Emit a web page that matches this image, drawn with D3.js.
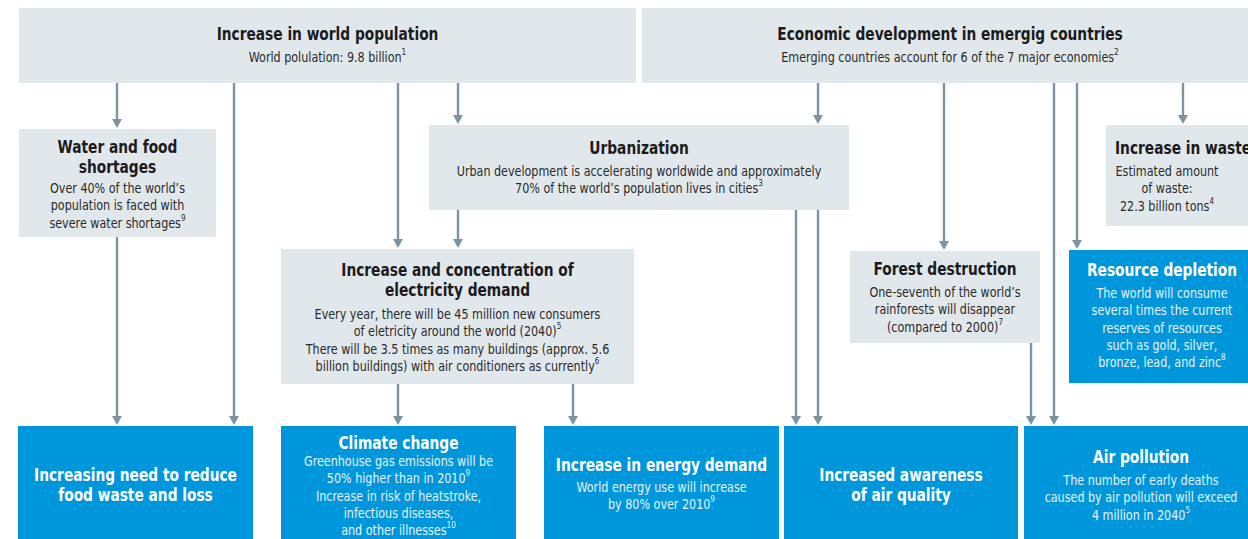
<!DOCTYPE html>
<html>
<head>
<meta charset="utf-8">
<script src="https://cdn.jsdelivr.net/npm/d3@7"></script>
<style>
  body { margin: 0; background: #fff; }
  svg { display: block; }
</style>
</head>
<body>
<script>
// boxes of the diagram ( "^n" marks a footnote number )
var nodeIds = ["pop", "econ", "water", "urban", "waste", "elec", "forest", "resource",
               "food", "climate", "energy", "aware", "air"];

var nodeTitles = [
    ["Increase in world population"],
    ["Economic development in emergig countries"],
    ["Water and food", "shortages"],
    ["Urbanization"],
    ["Increase in waste"],
    ["Increase and concentration of", "electricity demand"],
    ["Forest destruction"],
    ["Resource depletion"],
    ["Increasing need to reduce", "food waste and loss"],
    ["Climate change"],
    ["Increase in energy demand"],
    ["Increased awareness", "of air quality"],
    ["Air pollution"]
];

var nodeBodies = [
    ["World polulation: 9.8 billion^1"],
    ["Emerging countries account for 6 of the 7 major economies^2"],
    ["Over 40% of the world\u2019s", "population is faced with", "severe water shortages^9"],
    ["Urban development is accelerating worldwide and approximately", "70% of the world\u2019s population lives in cities^3"],
    ["Estimated amount", "of waste:", "22.3 billion tons^4"],
    ["Every year, there will be 45 million new consumers", "of eletricity around the world (2040)^5",
     "There will be 3.5 times as many buildings (approx. 5.6", "billion buildings) with air conditioners as currently^6"],
    ["One-seventh of the world\u2019s", "rainforests will disappear", "(compared to 2000)^7"],
    ["The world will consume", "several times the current", "reserves of resources", "such as gold, silver,", "bronze, lead, and zinc^8"],
    [],
    ["Greenhouse gas emissions will be", "50% higher than in 2010^9", "Increase in risk of heatstroke,", "infectious diseases,", "and other illnesses^10"],
    ["World energy use will increase", "by 80% over 2010^9"],
    [],
    ["The number of early deaths", "caused by air pollution will exceed", "4 million in 2040^5"]
];

var nodeKinds = ["grey", "grey", "grey", "grey", "grey", "grey", "grey", "blue",
                 "blue", "blue", "blue", "blue", "blue"];

// arrows: from box, to box, x of the line
var edgeFrom = ["pop", "pop", "pop", "pop", "urban", "water", "elec", "elec", "econ", "urban", "urban", "econ", "econ", "econ", "forest", "econ"];
var edgeTo   = ["water", "food", "elec", "urban", "elec", "food", "climate", "energy", "urban", "aware", "aware", "forest", "air", "resource", "air", "waste"];
var edgeX    = [117, 234, 398, 458, 458, 117, 398, 573, 818, 796, 818, 944, 1054, 1077, 1031, 1183];

// placement of the boxes: x, y, w, h, first text row, gap title -> body, text centre
var layout = {
    pop:      {x: 19,   y: 8,   w: 617, h: 75,  ty: 34,  gap: 23},
    econ:     {x: 642,  y: 8,   w: 616, h: 75,  ty: 34,  gap: 23},
    water:    {x: 19,   y: 129, w: 197, h: 108, ty: 147, gap: 21},
    urban:    {x: 429,  y: 125, w: 420, h: 85,  ty: 148, gap: 23},
    waste:    {x: 1106, y: 125, w: 160, h: 101, ty: 148, gap: 23, cx: 1167, tx: 1115},
    elec:     {x: 281,  y: 249, w: 353, h: 135, ty: 270, gap: 24},
    forest:   {x: 850,  y: 251, w: 190, h: 92,  ty: 269, gap: 23},
    resource: {x: 1069, y: 250, w: 190, h: 133, ty: 270, gap: 23, cx: 1162},
    food:     {x: 18,   y: 426, w: 235, h: 130, ty: 475, gap: 20},
    climate:  {x: 281,  y: 426, w: 235, h: 130, ty: 443, gap: 18},
    energy:   {x: 544,  y: 426, w: 235, h: 130, ty: 465, gap: 22},
    aware:    {x: 784,  y: 426, w: 234, h: 130, ty: 475, gap: 20},
    air:      {x: 1024, y: 426, w: 234, h: 130, ty: 457, gap: 23, cx: 1141}
};

var W = 1248, H = 539;
var colors = {grey: "#e1e8ec", blue: "#0096db", arrow: "#7b94a3"};
var font = "'DejaVu Sans Condensed', 'Liberation Sans Narrow', sans-serif";
var squeeze = 0.9;   // narrow the glyphs to look like a condensed face

var nodes = nodeIds.map(function(id, i) {
    var l = layout[id];
    return {id: id, title: nodeTitles[i], body: nodeBodies[i], kind: nodeKinds[i],
            x: l.x, y: l.y, w: l.w, h: l.h, ty: l.ty, gap: l.gap,
            cx: l.cx || l.x + l.w / 2, tx: l.tx};
});
var byId = {};
nodes.forEach(function(n) { byId[n.id] = n; });

var edges = edgeFrom.map(function(f, i) {
    return {x: edgeX[i], y1: byId[f].y + byId[f].h, y2: byId[edgeTo[i]].y};
});

var svg = d3.select("body")
    .append("svg")
    .attr("width", W)
    .attr("height", H)
    .style("font-family", font);

// arrows
var ag = svg.selectAll(".edge")
    .data(edges)
    .enter()
    .append("g")
    .attr("class", "edge");

ag.append("line")
    .attr("x1", function(d) { return d.x; })
    .attr("x2", function(d) { return d.x; })
    .attr("y1", function(d) { return d.y1; })
    .attr("y2", function(d) { return d.y2 - 8; })
    .attr("stroke", colors.arrow)
    .attr("stroke-width", 2.4);

ag.append("path")
    .attr("d", function(d) {
        return "M" + (d.x - 5) + "," + (d.y2 - 10) + "L" + (d.x + 5) + "," + (d.y2 - 10) + "L" + d.x + "," + (d.y2 - 1) + "Z";
    })
    .attr("fill", colors.arrow);

// boxes
var g = svg.selectAll(".node")
    .data(nodes)
    .enter()
    .append("g")
    .attr("class", "node");

g.append("rect")
    .attr("x", function(d) { return d.x; })
    .attr("y", function(d) { return d.y; })
    .attr("width", function(d) { return d.w; })
    .attr("height", function(d) { return d.h; })
    .attr("fill", function(d) { return colors[d.kind]; });

function addLine(sel, str) {
    var parts = str.split("^");
    sel.append("tspan").text(parts[0]);
    if (parts[1]) {
        sel.append("tspan")
            .attr("dy", -5)
            .attr("font-size", 9)
            .text(parts[1]);
    }
}

function place(x, y) {
    return "translate(" + x + "," + y + ") scale(" + squeeze + ",1)";
}

g.each(function(d) {
    var el = d3.select(this);
    var dark = d.kind == "grey";
    d.title.forEach(function(t, i) {
        el.append("text")
            .attr("transform", place(d.tx || d.cx, d.ty + i * 20))
            .attr("text-anchor", d.tx ? "start" : "middle")
            .attr("dominant-baseline", "central")
            .attr("font-weight", "bold")
            .attr("font-size", 17)
            .attr("fill", dark ? "#1b1b1b" : "#ffffff")
            .text(t);
    });
    var by = d.ty + (d.title.length - 1) * 20 + d.gap;
    d.body.forEach(function(b, i) {
        var t = el.append("text")
            .attr("transform", place(d.cx, by + i * 17.2))
            .attr("text-anchor", "middle")
            .attr("dominant-baseline", "central")
            .attr("font-size", 13.8)
            .attr("fill", dark ? "#2a2a2a" : "#e6f4fb");
        addLine(t, b);
    });
});
</script>
</body>
</html>
